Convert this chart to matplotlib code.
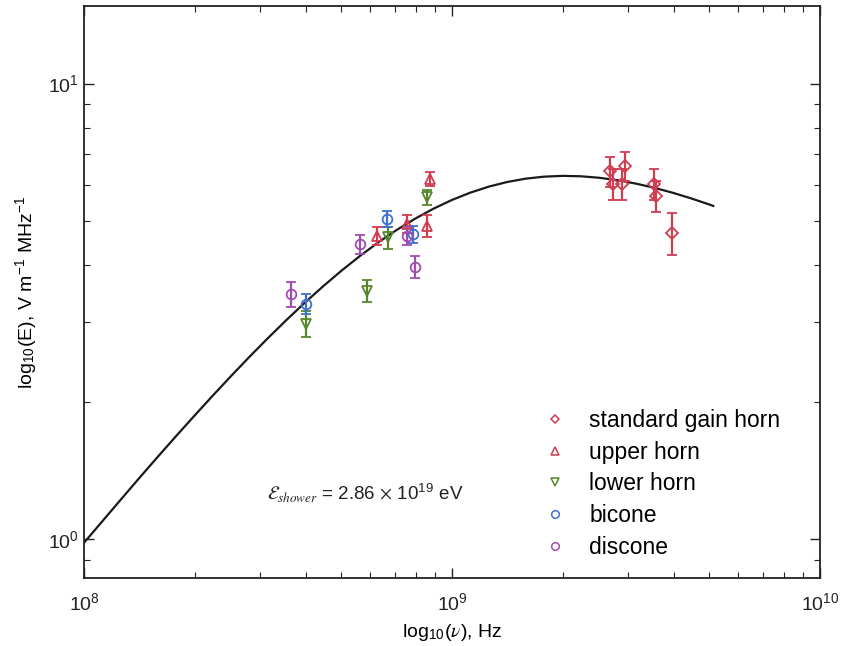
import matplotlib
matplotlib.use("Agg")
import matplotlib.pyplot as plt
from matplotlib.lines import Line2D
from matplotlib.ticker import LogLocator, NullFormatter

plt.rcParams['font.family'] = ['Liberation Sans', 'DejaVu Sans']
plt.rcParams['mathtext.fontset'] = 'stix'

# Model field spectrum for the shower: log10 of frequency (Hz) and field (V/m/MHz)
curve_logfreq = [8.00, 8.05, 8.10, 8.15, 8.20, 8.25, 8.30, 8.35, 8.40, 8.45, 8.50,
                 8.55, 8.60, 8.65, 8.70, 8.75, 8.80, 8.85, 8.90, 8.95, 9.00, 9.05,
                 9.10, 9.15, 9.20, 9.25, 9.30, 9.35, 9.40, 9.45, 9.50, 9.55, 9.60,
                 9.65, 9.70, 9.71]
curve_field = [0.980, 1.093, 1.219, 1.359, 1.512, 1.680, 1.863, 2.063, 2.279, 2.512,
               2.760, 3.023, 3.300, 3.587, 3.882, 4.181, 4.479, 4.770, 5.049, 5.311,
               5.550, 5.759, 5.936, 6.077, 6.180, 6.243, 6.268, 6.255, 6.208, 6.131,
               6.027, 5.900, 5.754, 5.593, 5.420, 5.384]

# Measurements per antenna
sgh_freq = [2.69e9, 2.74e9, 2.95e9, 2.90e9, 3.54e9, 3.58e9, 3.96e9]
sgh_field = [6.41, 6.03, 6.60, 6.03, 6.03, 5.67, 4.70]
sgh_err = [0.48, 0.47, 0.48, 0.47, 0.47, 0.45, 0.50]

upper_freq = [6.25e8, 7.53e8, 8.54e8, 8.71e8]
upper_field = [4.63, 4.92, 4.87, 6.17]
upper_err = [0.21, 0.22, 0.26, 0.23]

lower_freq = [4.0e8, 5.87e8, 6.71e8, 8.54e8]
lower_field = [2.97, 3.51, 4.59, 5.63]
lower_err = [0.19, 0.19, 0.25, 0.22]

bicone_freq = [4.02e8, 6.65e8, 7.85e8]
bicone_field = [3.28, 5.04, 4.67]
bicone_err = [0.17, 0.21, 0.20]

discone_freq = [3.65e8, 5.62e8, 7.53e8, 7.93e8]
discone_field = [3.45, 4.44, 4.63, 3.95]
discone_err = [0.22, 0.21, 0.21, 0.22]

labels = ['standard gain horn', 'upper horn', 'lower horn', 'bicone', 'discone']
colors = ['#d03c50', '#d03c50', '#55872c', '#3f6fd0', '#a04cae']
markers = ['D', '^', 'v', 'o', 'o']
sizes = [6, 7, 7, 7, 7]

series = [
    (sgh_freq, sgh_field, sgh_err),
    (upper_freq, upper_field, upper_err),
    (lower_freq, lower_field, lower_err),
    (bicone_freq, bicone_field, bicone_err),
    (discone_freq, discone_field, discone_err),
]

fig = plt.figure(figsize=(8.47, 6.46), dpi=100)
ax = fig.add_axes([84 / 847, 1 - 578 / 646, (820 - 84) / 847, (578 - 6) / 646])

curve_freq = [10 ** v for v in curve_logfreq]
ax.plot(curve_freq, curve_field, color='#1a1a1a', lw=1.6, zorder=2)

for (f, e, err), c, m, s in zip(series, colors, markers, sizes):
    ax.errorbar(f, e, yerr=err, fmt=m, mfc='none', mec=c, ecolor=c, mew=1.3,
                ms=s, elinewidth=1.6, capsize=3.5, capthick=1.4, zorder=3)

ax.set_xscale('log')
ax.set_yscale('log')
ax.set_xlim(1e8, 1e10)
ax.set_ylim(0.82, 14.8)

ax.yaxis.set_major_locator(LogLocator(base=10, numticks=10))
ax.yaxis.set_minor_locator(LogLocator(base=10, subs=range(2, 10), numticks=20))
ax.yaxis.set_minor_formatter(NullFormatter())
ax.xaxis.set_minor_formatter(NullFormatter())

ax.tick_params(which='both', direction='in', top=True, right=True,
               labelsize=14, colors='#222222')
ax.tick_params(which='major', length=7, width=1.0)
ax.tick_params(which='minor', length=4, width=0.8)
ax.tick_params(axis='x', which='major', pad=10)
for sp in ax.spines.values():
    sp.set_linewidth(1.3)
    sp.set_color('#222222')

ax.set_xlabel(r'log$_{\mathdefault{10}}$($\nu$), Hz', fontsize=14, labelpad=6)
ax.set_ylabel(r'log$_{\mathdefault{10}}$(E), V m$^{\mathdefault{-1}}$ MHz$^{\mathdefault{-1}}$',
              fontsize=14, labelpad=6)

fig.text(365 / 847, 1 - 492 / 646,
         r'$\mathcal{E}_{shower}$ = 2.86 $\times$ 10$^{\mathdefault{19}}$ eV',
         fontsize=13.5, ha='center', va='center', color='#222222')

handles = [Line2D([], [], ls='none', marker=m, mfc='none', mec=c, mew=1.1,
                  ms=5.5 if m != 'D' else 4.5)
           for c, m in zip(colors, markers)]
ax.legend(handles, labels, loc='upper left', frameon=False, fontsize=16.5,
          bbox_to_anchor=(543.5 / 847, 1 - 409 / 646), bbox_transform=fig.transFigure,
          borderpad=0, handlelength=1.0, handletextpad=1.0, labelspacing=0.38,
          borderaxespad=0)

fig.savefig('out.png', dpi=100)
